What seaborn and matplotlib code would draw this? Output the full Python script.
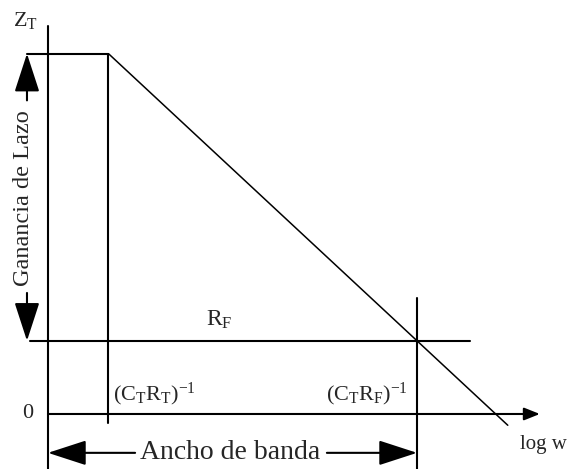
import matplotlib
matplotlib.use("Agg")
import matplotlib.pyplot as plt
import seaborn as sns
import pandas as pd

# Bode-style sketch of the transimpedance loop gain (log-log units)
log_w_T = 1.0          # corner (C_T R_T)^-1
log_w_F = 6.1          # corner (C_T R_F)^-1
level_ZT = 6.4         # low-frequency level Z_T
level_RF = 1.3         # feedback resistance level R_F
log_w_end = 7.6        # where the sketched slope stops

labels = {
    "zt": r"Z$_\mathrm{T}$",
    "rf": r"R$_\mathrm{F}$",
    "zero": "0",
    "wT": r"(C$_\mathrm{T}$R$_\mathrm{T}$)$^{-1}$",
    "wF": r"(C$_\mathrm{T}$R$_\mathrm{F}$)$^{-1}$",
    "xaxis": "log w",
    "gain": "Ganancia de Lazo",
    "bw": "Ancho de banda",
}

sns.set_theme(style="white")
plt.rcParams["font.family"] = ["Liberation Serif", "DejaVu Serif"]
plt.rcParams["mathtext.fontset"] = "custom"
plt.rcParams["mathtext.rm"] = "Liberation Serif"
plt.rcParams["mathtext.it"] = "Liberation Serif:italic"

fig = plt.figure(figsize=(5.73, 4.69), dpi=100)
ax = fig.add_axes([0, 0, 1, 1])
ax.set_xlim(-0.793, 8.678)
ax.set_ylim(-0.977, 7.353)
ax.axis("off")

k = "black"
lw = 1.5

# Asymptotic roll-off: slope -1 from the first corner
slope = pd.DataFrame({
    "log_w": [log_w_T, log_w_end],
    "gain": [level_ZT, level_ZT - (log_w_end - log_w_T)],
})
sns.lineplot(data=slope, x="log_w", y="gain", color=k, lw=1.1, ax=ax)

# Flat low-frequency level and frequency axis lines
ax.plot([-0.35, log_w_T], [level_ZT, level_ZT], color=k, lw=lw)
ax.plot([0, 0], [-1.2, 6.9], color=k, lw=lw)
ax.plot([log_w_T, log_w_T], [-0.16, level_ZT], color=k, lw=lw)
ax.plot([-0.30, 6.98], [level_RF, level_RF], color=k, lw=lw)
ax.plot([log_w_F, log_w_F], [-1.2, 2.06], color=k, lw=lw)

# Frequency axis with arrow
ax.annotate("", xy=(8.13, 0), xytext=(0, 0),
            arrowprops=dict(arrowstyle="-|>,head_length=9.5,head_width=3.8",
                            mutation_scale=1, color=k, lw=lw,
                            shrinkA=0, shrinkB=0))

def dim_arrow(tip, tail):
    ax.annotate("", xy=tip, xytext=tail,
                arrowprops=dict(arrowstyle="-|>,head_length=24,head_width=7.8",
                                mutation_scale=1, color=k, lw=lw,
                                shrinkA=0, shrinkB=0))

# Loop-gain span (vertical) and bandwidth span (horizontal)
x_gain = -0.347
dim_arrow((x_gain, level_ZT), (x_gain, 5.57))
dim_arrow((x_gain, level_RF), (x_gain, 2.15))
y_bw = -0.69
dim_arrow((0, y_bw), (1.44, y_bw))
dim_arrow((log_w_F, y_bw), (4.61, y_bw))

ax.text(x_gain - 0.06, 3.83, labels["gain"], rotation=90, fontsize=17.5,
        ha="center", va="center")
ax.text(3.01, y_bw, labels["bw"], fontsize=20, ha="center", va="center")

ax.text(-0.58, 6.9, labels["zt"], fontsize=16, ha="left", va="baseline")
ax.text(-0.33, 0.0, labels["zero"], fontsize=16, ha="center", va="center")
ax.text(2.61, 1.56, labels["rf"], fontsize=17, ha="left", va="baseline")
ax.text(log_w_T + 0.07, 0.25, labels["wT"], fontsize=16, ha="left", va="baseline")
ax.text(log_w_F - 0.15, 0.25, labels["wF"], fontsize=16, ha="right", va="baseline")
ax.text(7.8, -0.63, labels["xaxis"], fontsize=15, ha="left", va="baseline")

fig.savefig("out.png", dpi=100, facecolor="white")
